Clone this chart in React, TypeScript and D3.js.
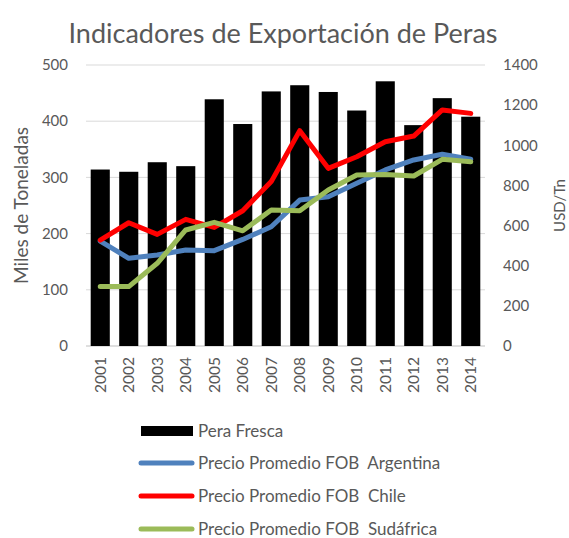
import React, { useEffect, useRef } from 'react';
import { select, scaleLinear, scaleBand, line } from 'd3';

const years = ['2001', '2002', '2003', '2004', '2005', '2006', '2007', '2008', '2009', '2010', '2011', '2012', '2013', '2014'];
const peraFresca = [314, 310, 327, 320, 439, 395, 453, 464, 452, 419, 471, 393, 441, 408];
const fobArgentina = [523, 437, 453, 478, 475, 531, 594, 727, 744, 811, 877, 927, 955, 930];
const fobChile = [528, 614, 556, 631, 591, 674, 819, 1073, 885, 943, 1018, 1046, 1176, 1159];
const fobSudafrica = [296, 296, 412, 578, 616, 574, 678, 674, 777, 852, 855, 847, 930, 918];
const leftTicks = [0, 100, 200, 300, 400, 500];
const rightTicks = [0, 200, 400, 600, 800, 1000, 1200, 1400];

const dims = { width: 569, height: 538, left: 86, right: 485, top: 65, bottom: 346 };
const font = 'Lato, "Open Sans", sans-serif';
const grey = '#595959';

const lineSeries = [
  { name: 'Precio Promedio FOB\u00a0 Argentina', values: fobArgentina, color: '#4f81bd' },
  { name: 'Precio Promedio FOB\u00a0 Chile', values: fobChile, color: '#ff0000' },
  { name: 'Precio Promedio FOB\u00a0 Sudáfrica', values: fobSudafrica, color: '#9bbb59' },
];

const App: React.FC = () => {
  const svgRef = useRef<SVGSVGElement | null>(null);

  useEffect(() => {
    document.body.style.margin = '0';
    document.body.style.overflow = 'hidden';
    const svg = select(svgRef.current);
    svg.selectAll('*').remove();

    const x = scaleBand().domain(years).range([dims.left, dims.right]).paddingInner(0.33).paddingOuter(0.165);
    const yL = scaleLinear().domain([0, 500]).range([dims.bottom, dims.top]);
    const yR = scaleLinear().domain([0, 1400]).range([dims.bottom, dims.top]);

    svg.append('text')
      .attr('x', 283).attr('y', 43)
      .attr('text-anchor', 'middle')
      .attr('font-family', font).attr('font-size', 27).attr('fill', grey)
      .text('Indicadores de Exportación de Peras');

    // gridlines
    svg.append('g').selectAll('line').data(leftTicks).enter().append('line')
      .attr('x1', dims.left).attr('x2', dims.right)
      .attr('y1', d => yL(d)).attr('y2', d => yL(d))
      .attr('stroke', d => (d === 0 ? '#bfbfbf' : '#d9d9d9')).attr('stroke-width', 1);

    // left ticks
    svg.append('g').selectAll('text').data(leftTicks).enter().append('text')
      .attr('x', 68).attr('y', d => yL(d)).attr('dy', '0.35em')
      .attr('text-anchor', 'end')
      .attr('font-family', font).attr('font-size', 15).attr('fill', grey)
      .text(d => d);

    // right ticks
    svg.append('g').selectAll('text').data(rightTicks).enter().append('text')
      .attr('x', 503).attr('y', d => yR(d)).attr('dy', '0.35em')
      .attr('text-anchor', 'start')
      .attr('font-family', font).attr('font-size', 15).attr('fill', grey)
      .text(d => d);

    svg.append('text')
      .attr('transform', `translate(28, ${(dims.top + dims.bottom) / 2}) rotate(-90)`)
      .attr('text-anchor', 'middle')
      .attr('font-family', font).attr('font-size', 19).attr('fill', grey)
      .text('Miles de Toneladas');

    svg.append('text')
      .attr('transform', `translate(565, ${(dims.top + dims.bottom) / 2}) rotate(-90)`)
      .attr('text-anchor', 'middle')
      .attr('font-family', font).attr('font-size', 15).attr('fill', grey)
      .text('USD/Tn');

    // bars
    svg.append('g').selectAll('rect').data(peraFresca).enter().append('rect')
      .attr('x', (d, i) => x(years[i])!)
      .attr('y', d => yL(d))
      .attr('width', x.bandwidth())
      .attr('height', d => dims.bottom - yL(d))
      .attr('fill', '#000');

    // x labels
    svg.append('g').selectAll('text').data(years).enter().append('text')
      .attr('transform', d => `translate(${x(d)! + x.bandwidth() / 2}, 357) rotate(-90)`)
      .attr('text-anchor', 'end').attr('dy', '0.35em')
      .attr('font-family', font).attr('font-size', 15.5).attr('fill', grey)
      .text(d => d);

    // lines
    const lineGen = line<number>()
      .x((d, i) => x(years[i])! + x.bandwidth() / 2)
      .y(d => yR(d));
    lineSeries.forEach(s => {
      svg.append('path')
        .attr('d', lineGen(s.values))
        .attr('fill', 'none')
        .attr('stroke', s.color)
        .attr('stroke-width', 5)
        .attr('stroke-linejoin', 'round')
        .attr('stroke-linecap', 'round');
    });

    // legend
    const lg = svg.append('g').attr('font-family', font).attr('font-size', 17).attr('fill', grey);
    lg.append('rect').attr('x', 141).attr('y', 426).attr('width', 52).attr('height', 10).attr('fill', '#000');
    lg.append('text').attr('x', 198).attr('y', 431).attr('dy', '0.35em').attr('fill', grey).text('Pera Fresca');
    lineSeries.forEach((s, i) => {
      const ly = 463 + i * 33;
      lg.append('line')
        .attr('x1', 141).attr('x2', 192).attr('y1', ly).attr('y2', ly)
        .attr('stroke', s.color).attr('stroke-width', 5).attr('stroke-linecap', 'round');
      lg.append('text').attr('x', 198).attr('y', ly).attr('dy', '0.35em').attr('fill', grey).text(s.name);
    });
  }, []);

  return (
    <div>
      <svg ref={svgRef} width={dims.width} height={dims.height} style={{ display: 'block', background: '#fff' }} />
    </div>
  );
};

export default App;
